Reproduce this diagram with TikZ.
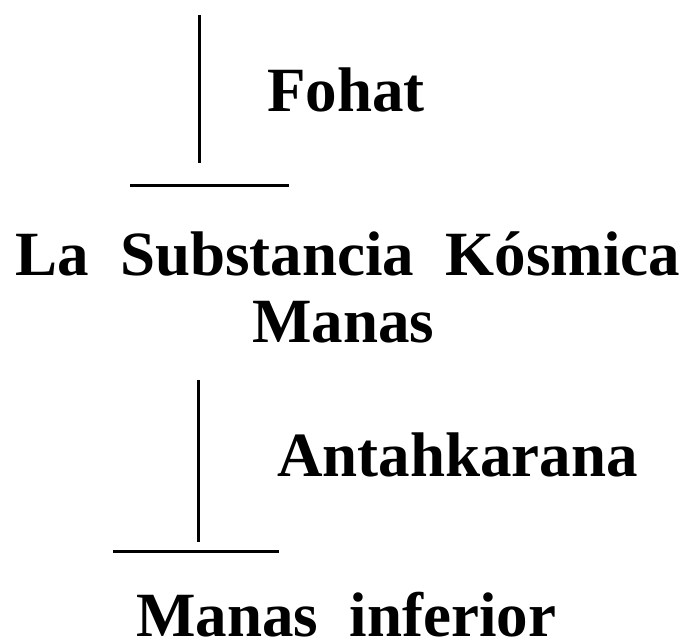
\documentclass[tikz,border=0pt]{standalone}
\usepackage{fontspec}
\setmainfont{Liberation Serif}[WordSpace=2.0]
\usetikzlibrary{calc}

\begin{document}
\begin{tikzpicture}[x=1pt,y=-1pt,
    term/.style={inner sep=0pt, anchor=base west,
        font=\fontsize{63}{70}\selectfont\bfseries},
    rule/.style={line width=3pt}]

    \useasboundingbox (0,0) rectangle (689,644);

    \node[term] (Fohat) at (267,112) {Fohat};
    \node[term] (Cosmic) at (15,276) {La Substancia Kósmica};
    \node[term] (Manas) at (252,343) {Manas};
    \node[term] (Antah) at (277,477) {Antahkarana};
    \node[term] (Lower) at (136,636) {Manas inferior};

    \coordinate (A1) at (199,15);
    \coordinate (A2) at (199,163);
    \coordinate (B1) at (130,186);
    \coordinate (B2) at (289,186);
    \coordinate (C1) at (198,380);
    \coordinate (C2) at (198,542);
    \coordinate (D1) at (113,552);
    \coordinate (D2) at (279,552);

    \draw[rule] (A1) -- (A2);
    \draw[rule] (B1) -- (B2);
    \draw[rule] (C1) -- (C2);
    \draw[rule] (D1) -- (D2);
  \end{tikzpicture}
\end{document}
